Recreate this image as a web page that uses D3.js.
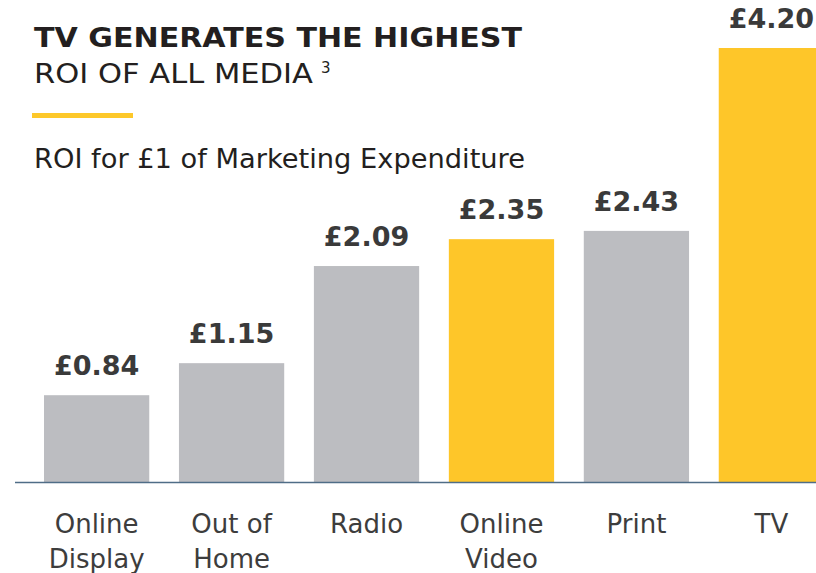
<!DOCTYPE html>
<html>
<head>
<meta charset="utf-8">
<script src="https://cdn.jsdelivr.net/npm/d3@7"></script>
<style>
  body { margin: 0; background: #fff; }
  svg text { font-family: "DejaVu Sans", sans-serif; }
</style>
</head>
<body>
<div id="chart"></div>
<script>
{
// data
const categories = ['Online Display', 'Out of Home', 'Radio', 'Online Video', 'Print', 'TV'];
const categoryLines = [['Online', 'Display'], ['Out of', 'Home'], ['Radio'], ['Online', 'Video'], ['Print'], ['TV']];
const roiValues = [0.84, 1.15, 2.09, 2.35, 2.43, 4.20];
const highlighted = ['Online Video', 'TV'];

const titleBold = 'TV GENERATES THE HIGHEST';
const titleLight = 'ROI OF ALL MEDIA';
const footnote = '3';
const subtitle = 'ROI for £1 of Marketing Expenditure';

const width = 816;
const height = 573;
const baseY = 482;

const data = categories.map((c, i) => ({name: c, lines: categoryLines[i], value: roiValues[i]}));

let svg = d3.select('#chart')
    .append('svg')
    .attr('width', width)
    .attr('height', height);

let x = d3.scaleBand()
    .domain(categories)
    .range([44, 824])
    .paddingInner(0.22)
    .paddingOuter(0);

let y = d3.scaleLinear()
    .domain([0, 4.2])
    .range([baseY, 48]);

// heading
svg.append('text')
    .attr('x', 34).attr('y', 47)
    .attr('textLength', 488)
    .attr('lengthAdjust', 'spacingAndGlyphs')
    .style('font-size', '26px')
    .style('font-weight', 'bold')
    .style('fill', '#231f20')
    .text(titleBold);

svg.append('text')
    .attr('x', 34).attr('y', 83)
    .attr('textLength', 279)
    .attr('lengthAdjust', 'spacingAndGlyphs')
    .style('font-size', '27px')
    .style('fill', '#231f20')
    .text(titleLight);

svg.append('text')
    .attr('x', 321).attr('y', 73)
    .style('font-size', '15px')
    .style('fill', '#231f20')
    .text(footnote);

svg.append('rect')
    .attr('x', 32).attr('y', 113)
    .attr('width', 101).attr('height', 5)
    .style('fill', '#fdc82a');

svg.append('text')
    .attr('x', 34).attr('y', 168)
    .attr('textLength', 491)
    .attr('lengthAdjust', 'spacingAndGlyphs')
    .style('font-size', '26px')
    .style('fill', '#231f20')
    .text(subtitle);

// bars
svg.selectAll('rect.bar')
    .data(data)
    .enter().append('rect')
    .attr('class', 'bar')
    .attr('x', d => x(d.name))
    .attr('y', d => y(d.value))
    .attr('width', x.bandwidth())
    .attr('height', d => y(0) - y(d.value))
    .style('fill', d => highlighted.includes(d.name) ? '#fec629' : '#bcbdc1');

svg.selectAll('text.val')
    .data(data)
    .enter().append('text')
    .attr('class', 'val')
    .attr('x', d => x(d.name) + x.bandwidth() / 2)
    .attr('y', d => y(d.value) - 20)
    .style('text-anchor', 'middle')
    .style('font-size', '27px')
    .style('font-weight', 'bold')
    .style('fill', '#3a3a3a')
    .text(d => '£' + d.value.toFixed(2));

// baseline
svg.append('line')
    .attr('x1', 15).attr('x2', width)
    .attr('y1', baseY + 0.5).attr('y2', baseY + 0.5)
    .style('stroke', '#4f6d87')
    .style('stroke-width', 1.5);

// category labels
let axis = svg.append('g')
    .attr('transform', `translate(0, ${baseY})`)
    .call(d3.axisBottom(x).tickSize(0).tickPadding(0).tickFormat(''));
axis.select('.domain').remove();

axis.selectAll('.tick text').each(function(name) {
    const lines = categoryLines[categories.indexOf(name)];
    const t = d3.select(this)
        .attr('y', 51)
        .attr('dy', 0)
        .style('font-size', '26px')
        .style('font-family', '"DejaVu Sans", sans-serif')
        .style('fill', '#3d3d3d');
    lines.forEach((l, i) => {
        t.append('tspan')
            .attr('x', 0)
            .attr('dy', i === 0 ? 0 : 35)
            .text(l);
    });
});
}
</script>
</body>
</html>
